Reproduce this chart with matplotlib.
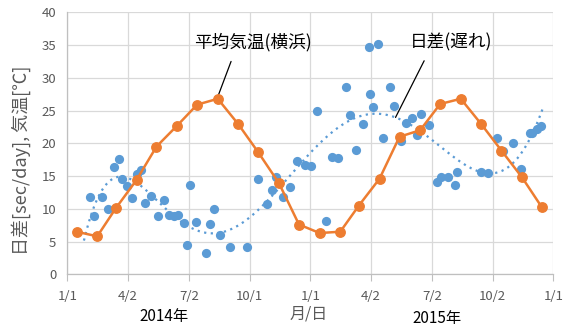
import numpy as np
import pandas as pd
import matplotlib
matplotlib.use("Agg")
import matplotlib.pyplot as plt

plt.rcParams['font.family'] = ['Noto Sans CJK JP', 'DejaVu Sans']

# ---- data ----
origin = pd.Timestamp('2014-01-01')

# monthly mean temperature (Yokohama), plotted mid-month
temp_months = ['2014-01', '2014-02', '2014-03', '2014-04', '2014-05', '2014-06',
               '2014-07', '2014-08', '2014-09', '2014-10', '2014-11', '2014-12',
               '2015-01', '2015-02', '2015-03', '2015-04', '2015-05', '2015-06',
               '2015-07', '2015-08', '2015-09', '2015-10', '2015-11', '2015-12']
temp_values = [6.5, 5.8, 10.1, 14.4, 19.5, 22.7, 25.9, 26.8, 22.9, 18.6, 13.9, 7.6,
               6.3, 6.5, 10.5, 14.6, 21.0, 22.0, 26.0, 26.8, 22.9, 18.9, 14.8, 10.2]

# daily drift (lag) measurements: day offset from 2014-01-01, sec/day
drift_days = [34, 40, 52, 61, 70, 77, 82, 90, 97, 105, 111, 116, 126, 137, 146, 153,
              160, 166, 175, 180, 185, 193, 208, 214, 220, 229, 244, 270, 286, 300,
              307, 313, 324, 334, 345, 357, 366,
              375, 389, 397, 407, 419, 425, 434, 444, 453, 455, 459, 466, 474, 485,
              491, 501, 509, 518, 525, 532, 544, 556, 562, 572, 582, 586, 621, 632,
              645, 655, 670, 682, 695, 698, 705, 712]
drift_values = [11.85, 8.9, 11.85, 10.0, 16.4, 17.65, 14.6, 13.5, 11.7, 15.35, 15.9,
                10.85, 12.0, 8.9, 11.4, 9.0, 8.9, 9.1, 7.9, 4.4, 13.7, 8.0, 3.3, 7.7,
                9.9, 6.0, 4.1, 4.2, 14.6, 10.8, 12.9, 14.8, 11.85, 13.4, 17.3, 16.7,
                16.5,
                25.0, 8.2, 17.9, 17.7, 28.6, 24.3, 19.0, 22.95, 34.75, 27.6, 25.5,
                35.1, 20.85, 28.6, 25.7, 20.3, 23.1, 23.9, 21.2, 24.4, 22.85, 14.1,
                14.85, 14.85, 13.6, 15.6, 15.6, 15.45, 20.85, 18.9, 20.1, 16.15,
                21.6, 21.5, 22.2, 22.7]

tick_days = [0, 91.25, 182.5, 273.75, 365, 456.25, 547.5, 638.75, 730]
tick_labels = ['1/1', '4/2', '7/2', '10/1', '1/1', '4/2', '7/2', '10/2', '1/1']
yticks = [0, 5, 10, 15, 20, 25, 30, 35, 40]

temp_days = [(pd.Timestamp(m + '-15') - origin).days for m in temp_months]

ORANGE = '#ED7D31'
BLUE = '#5B9BD5'
GRAY = '#595959'
GRID = '#D9D9D9'

fig = plt.figure(figsize=(5.75, 3.33), dpi=100)
ax = fig.add_axes([0.117, 0.1763, 0.8453, 0.7867])

ax.set_xlim(0, 730)
ax.set_ylim(0, 40)
ax.set_xticks(tick_days)
ax.set_xticklabels(tick_labels)
ax.set_yticks(yticks)
ax.grid(True, color=GRID, linewidth=0.9)
ax.set_axisbelow(True)
for s in ['top', 'right']:
    ax.spines[s].set_visible(False)
for s in ['left', 'bottom']:
    ax.spines[s].set_color('#BFBFBF')
    ax.spines[s].set_linewidth(0.9)
ax.tick_params(axis='x', colors=GRAY, labelsize=9.5, length=5, color='#BFBFBF', pad=6)
ax.tick_params(axis='y', colors=GRAY, labelsize=9.5, length=0, pad=8)
for lab in ax.get_xticklabels() + ax.get_yticklabels():
    lab.set_color(GRAY)

# scatter of drift
dd = np.array(drift_days, dtype=float)
dv = np.array(drift_values, dtype=float)
ax.scatter(dd, dv, s=44, color=BLUE, zorder=3, linewidths=0)

# polynomial trendline (order 6)
xs = (dd - 365) / 365.0
coef = np.polyfit(xs, dv, 6)
poly = np.poly1d(coef)
xt = np.linspace(dd.min() - 9, dd.max() + 3, 300)
ax.plot(xt, poly((xt - 365) / 365.0), color=BLUE, linestyle=(0, (1, 2)),
        linewidth=1.6, zorder=2)

# temperature line
ax.plot(temp_days, temp_values, color=ORANGE, linewidth=1.8, marker='o',
        markersize=6.8, zorder=4)

# annotations
ax.text(279.5, 35.5, '平均気温(横浜)', fontsize=12.7, ha='center', va='center', color='black')
ax.annotate('', xy=(temp_days[7], temp_values[7] + 0.3), xytext=(246, 32.5),
            arrowprops=dict(arrowstyle='-', color='black', linewidth=0.9, shrinkA=0, shrinkB=0))
ax.text(576.5, 35.4, '日差(遅れ)', fontsize=12.7, ha='center', va='center', color='black')
d_ann = 493.0
ax.annotate('', xy=(d_ann, poly((d_ann - 365) / 365.0)), xytext=(536, 32.6),
            arrowprops=dict(arrowstyle='-', color='black', linewidth=0.9, shrinkA=0, shrinkB=0))

ax.set_ylabel('日差[sec/day], 気温[℃]', fontsize=13, color=GRAY)
ax.yaxis.set_label_coords(-0.074, 0.436)

fig.text(164 / 575, 1 - 316 / 333, '2014年', fontsize=11, ha='center', va='center', color='black')
fig.text(309 / 575, 1 - 314 / 333, '月/日', fontsize=11.5, ha='center', va='center', color=GRAY)
fig.text(437 / 575, 1 - 318 / 333, '2015年', fontsize=11, ha='center', va='center', color='black')

fig.savefig('out.png', dpi=100)
